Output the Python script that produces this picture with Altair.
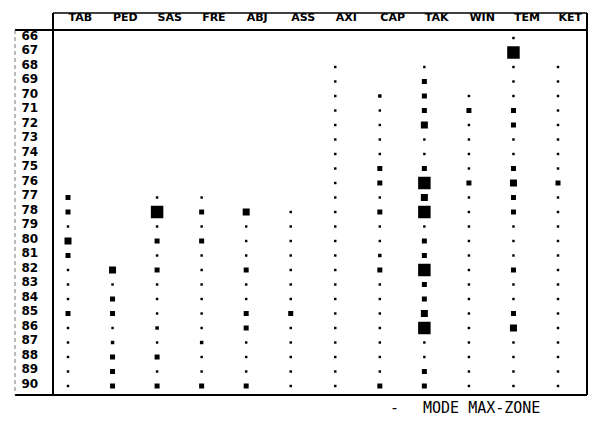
import altair as alt
import pandas as pd

# Row labels (top to bottom) and column labels (left to right)
rows = list(range(66, 91))
columns = ["TAB", "PED", "SAS", "FRE", "ABJ", "ASS", "AXI", "CAP", "TAK", "WIN", "TEM", "KET"]

# Marker level per row (66..90); 0 = no marker
TAB = [0]*11 + [3, 3, 1, 4, 3, 1, 1, 1, 3, 1, 1, 1, 1, 1]
PED = [0]*16 + [4, 1, 3, 3, 1, 2, 3, 3, 3]
SAS = [0]*11 + [1, 5, 1, 3, 1, 3, 1, 1, 1, 2, 1, 3, 1, 3]
FRE = [0]*11 + [1, 3, 1, 3, 1, 1, 1, 1, 1, 1, 2, 1, 1, 3]
ABJ = [0]*12 + [4, 1, 1, 1, 3, 1, 1, 3, 3, 1, 1, 1, 3]
ASS = [0]*12 + [1, 1, 1, 1, 1, 1, 1, 3, 1, 1, 1, 1, 1]
AXI = [0]*2 + [1]*23
CAP = [0]*4 + [2, 1, 1, 1, 1, 3, 3, 1, 3, 1, 1, 2, 3, 1, 1, 1, 1, 1, 1, 1, 3]
TAK = [0]*2 + [1, 3, 3, 3, 4, 1, 1, 3, 5, 4, 5, 1, 3, 3, 5, 3, 3, 4, 5, 1, 1, 3, 3]
WIN = [0]*4 + [1, 3, 1, 1, 1, 1, 3] + [1]*14
TEM = [1, 5, 1, 1, 1, 3, 3, 1, 1, 3, 4, 3, 3, 1, 1, 1, 3, 1, 1, 3, 4, 1, 1, 1, 1]
KET = [0]*2 + [1, 1, 1, 1, 1, 1, 1, 1, 3] + [1]*14

caption_dash = "-"
caption_text = "MODE MAX-ZONE"

series = dict(TAB=TAB, PED=PED, SAS=SAS, FRE=FRE, ABJ=ABJ, ASS=ASS, AXI=AXI,
              CAP=CAP, TAK=TAK, WIN=WIN, TEM=TEM, KET=KET)
recs = []
for c in columns:
    for r, v in zip(rows, series[c]):
        if v > 0:
            recs.append({"col": c, "row": r, "level": v})
df = pd.DataFrame(recs)

W, H = 534, 365
LABEL_FONT = "DejaVu Sans"

points = alt.Chart(df).mark_square(filled=True, color="black", opacity=1).encode(
    x=alt.X("col:N", scale=alt.Scale(type="point", domain=columns, range=[15, 505], padding=0),
            axis=alt.Axis(orient="top", title=None, ticks=False, domain=False, grid=False,
                          labelAlign="left", labelAngle=0, labelPadding=8,
                          labelFont=LABEL_FONT, labelFontSize=11, labelFontWeight="bold",
                          labelColor="black")),
    y=alt.Y("row:O", scale=alt.Scale(type="point", domain=rows, range=[8, 356], padding=0),
            axis=alt.Axis(title=None, ticks=False, domain=False, grid=False,
                          labelAlign="left", labelPadding=32, labelOffset=-3,
                          labelFont=LABEL_FONT, labelFontSize=12, labelFontWeight="bold",
                          labelColor="black")),
    size=alt.Size("level:Q", scale=alt.Scale(type="linear", domain=[1, 2, 3, 4, 5],
                                             range=[6, 12, 25, 49, 156]),
                  legend=None),
)

one = pd.DataFrame({"k": [0]})

def hline(y, x1, x2, w=2, color="black"):
    return alt.Chart(one).mark_rule(color=color, strokeWidth=w).encode(
        x=alt.value(x1), x2=alt.value(x2), y=alt.value(y))

def vline(x, y1, y2, w=2, color="black", dash=None):
    kw = dict(color=color, strokeWidth=w)
    if dash:
        kw["strokeDash"] = dash
    return alt.Chart(one).mark_rule(**kw).encode(
        x=alt.value(x), y=alt.value(y1), y2=alt.value(y2))

frame = [
    hline(-17, 0, W, 1.5),
    hline(0, -38, W, 2),
    hline(H, -38, W, 2),
    vline(0, -17, H, 2),
    vline(W, -17, H, 2),
    vline(-38, 0, H, 1, color="#777777", dash=[4, 3]),
]

dash = alt.Chart(pd.DataFrame({"t": [caption_dash]})).mark_text(
    font="DejaVu Sans Mono", fontSize=15, align="left", baseline="middle", color="black"
).encode(x=alt.value(337), y=alt.value(378), text="t:N")

cap = alt.Chart(pd.DataFrame({"t": [caption_text]})).mark_text(
    font="DejaVu Sans Mono", fontSize=15, align="left", baseline="middle", color="black"
).encode(x=alt.value(370), y=alt.value(378), text="t:N")

chart = alt.layer(points, *frame, dash, cap).properties(
    width=W, height=H,
    autosize=alt.AutoSizeParams(type="none"),
    padding={"left": 45, "top": 22, "right": 5, "bottom": 25},
    background="white",
).configure_view(stroke=None)

chart.save("out.html", embed_options={"renderer": "svg", "actions": False})
